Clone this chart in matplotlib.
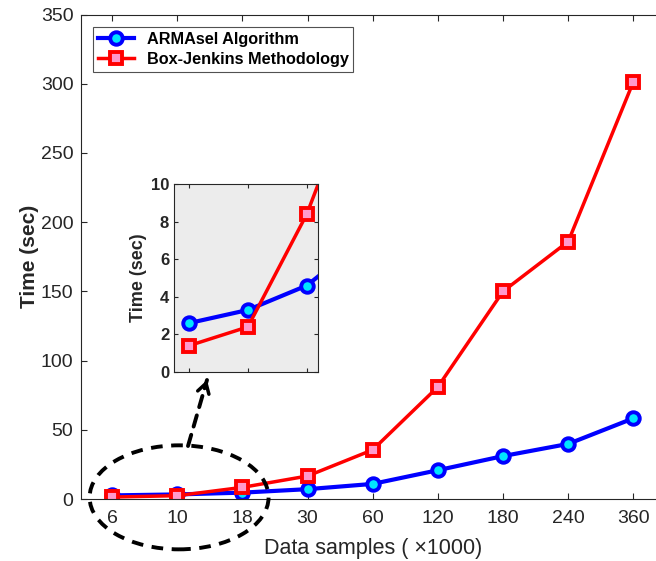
import matplotlib
matplotlib.use("Agg")
import matplotlib.pyplot as plt
from matplotlib.patches import Ellipse
import numpy as np

plt.rcParams['font.family'] = ['Liberation Sans', 'DejaVu Sans']

categories = ["6", "10", "18", "30", "60", "120", "180", "240", "360"]
armasel = [2.6, 3.3, 4.6, 7.1, 10.9, 20.8, 31.0, 39.8, 58.3]
box_jenkins = [1.4, 2.4, 8.4, 16.6, 35.5, 81.0, 150.0, 186.0, 301.5]
legend_labels = ["ARMAsel Algorithm", "Box-Jenkins Methodology"]

W, H = 656, 561
fig = plt.figure(figsize=(W / 100, H / 100), dpi=100)

def pos(l, t, r, b):
    return [l / W, 1 - b / H, (r - l) / W, (b - t) / H]

TXT = '#262626'
x = np.arange(len(categories))
ax = fig.add_axes(pos(81, 14.5, 666, 499))
blue_kw = dict(color='#0000ff', lw=3, marker='o', ms=9, mfc='#00e5ff', mec='#0000ff', mew=2.8)
red_kw = dict(color='#ff0000', lw=2.5, marker='s', ms=9, mfc='#ff99cc', mec='#ff0000', mew=2.8)
ax.plot(x, armasel, label=legend_labels[0], **blue_kw)
ax.plot(x, box_jenkins, label=legend_labels[1], **red_kw)
ax.set_xlim(-0.475, 8.5)
ax.set_ylim(0, 350)
ax.set_xticks(x)
ax.set_xticklabels(categories)
ax.set_yticks(np.arange(0, 351, 50))
ax.tick_params(labelsize=14, direction='in', length=4, width=0.8, colors=TXT,
               top=True, right=True)
ax.tick_params(axis='x', pad=8)
ax.tick_params(axis='y', pad=5.5)
for s in ax.spines.values():
    s.set_color(TXT)
    s.set_linewidth(0.8)
ax.set_xlabel("Data samples ( \u00d71000)", fontsize=15.5, color=TXT, labelpad=8)
ax.set_ylabel("Time (sec)", fontsize=15, fontweight='bold', color=TXT)
ax.yaxis.set_label_coords(-0.072, 0.5)
leg = ax.legend(loc='upper left', bbox_to_anchor=(12 / 585, 1 - 12.5 / 484.5),
                prop={'weight': 'bold', 'size': 11.7}, frameon=True, fancybox=False,
                edgecolor=TXT, borderpad=0.3, handlelength=2.2, labelspacing=0.3,
                borderaxespad=0)
leg.get_frame().set_linewidth(0.8)

# dashed ellipse + arrow
ell = Ellipse((1.03, 1.2), width=179 / 65.2, height=104 / 1.384, fill=False,
              ls=(0, (3, 2.2)), lw=2.8, ec='black', clip_on=False, zorder=5)
ax.add_patch(ell)
ax.annotate("", xy=(207, H - 380), xycoords='figure pixels',
            xytext=(188, H - 446), textcoords='figure pixels',
            arrowprops=dict(arrowstyle='-', ls=(0, (3, 2.2)), lw=2.8, color='black',
                            shrinkA=0, shrinkB=0))
ax.annotate("", xy=(207, H - 380), xycoords='figure pixels',
            xytext=(204.5, H - 388.5), textcoords='figure pixels',
            arrowprops=dict(arrowstyle='->,head_length=0.5,head_width=0.3', lw=2.5,
                            color='black', shrinkA=0, shrinkB=0, mutation_scale=14))

# inset
ins = fig.add_axes(pos(174, 184, 318, 372))
ins.set_facecolor('#ececec')
ins.plot(x, armasel, **blue_kw)
ins.plot(x, box_jenkins, **red_kw)
ins.set_xlim(-0.254, 2.19)
ins.set_ylim(0, 10)
ins.set_xticks([0, 1, 2])
ins.set_xticklabels([])
ins.set_yticks(np.arange(0, 11, 2))
ins.tick_params(labelsize=12, direction='in', length=3, width=0.8, colors=TXT,
                top=True, right=True)
for lab in ins.get_yticklabels():
    lab.set_fontweight('bold')
for s in ins.spines.values():
    s.set_color(TXT)
    s.set_linewidth(0.8)
ins.set_ylabel("Time (sec)", fontsize=13, fontweight='bold', color=TXT, labelpad=3)

fig.savefig("out.png", dpi=100)
